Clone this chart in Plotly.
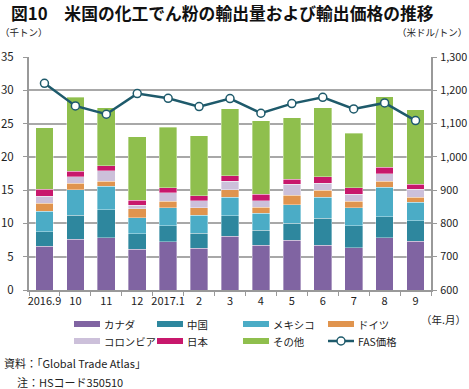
import plotly.graph_objects as go

months = ["2016.9", "10", "11", "12", "2017.1", "2", "3", "4", "5", "6", "7", "8", "9"]
canada  = [6.6, 7.6, 7.85, 6.1, 7.25, 6.25, 8.05, 6.75, 7.5, 6.7, 6.35, 7.85, 7.3]
china   = [2.15, 3.65, 4.2, 2.35, 2.4, 2.25, 3.1, 2.25, 2.55, 4.1, 3.3, 3.15, 3.1]
mexico  = [3.05, 3.8, 3.55, 2.4, 2.7, 2.7, 2.75, 2.5, 2.75, 3.15, 2.7, 4.4, 2.8]
germany = [1.25, 0.95, 0.75, 1.35, 1.0, 1.15, 1.15, 0.95, 1.45, 1.05, 1.0, 0.95, 0.7]
colombia= [1.05, 1.05, 1.55, 0.55, 1.25, 1.05, 1.3, 0.95, 1.6, 1.0, 1.0, 1.15, 1.2]
japan   = [1.05, 0.8, 0.75, 0.75, 0.75, 0.75, 0.85, 1.0, 0.8, 1.0, 1.0, 0.95, 0.75]
other   = [9.2, 11.1, 8.75, 9.5, 9.1, 9.05, 10.05, 11.0, 9.25, 10.4, 8.2, 10.6, 11.25]
fas     = [1221, 1153, 1128, 1190, 1176, 1151, 1175, 1131, 1160, 1179, 1144, 1162, 1109]

names  = ["カナダ", "中国", "メキシコ", "ドイツ", "コロンビア", "日本", "その他"]
series = [canada, china, mexico, germany, colombia, japan, other]
colors = ["#8064A2", "#2E879E", "#4BACC6", "#E0944E", "#CCC0DA", "#C8186C", "#8FBF4D"]
line_name = "FAS価格"
line_color = "#1E5A6B"

FONT = "Noto Sans CJK JP"

fig = go.Figure()
for n, s, c in zip(names, series, colors):
    fig.add_trace(go.Bar(x=months, y=s, name=n, marker=dict(color=c, line=dict(color="rgba(255,255,255,0.6)", width=0.6)),
                         showlegend=False))
fig.add_trace(go.Scatter(x=months, y=fas, name=line_name, yaxis="y2", mode="lines+markers",
                         line=dict(color=line_color, width=2.5),
                         marker=dict(size=8, color="white", line=dict(color=line_color, width=1.5)),
                         showlegend=False))

W, H = 469, 389
L, R, T, B = 29, 38, 57, 99
pw, ph = W - L - R, H - T - B

def px(x):
    return (x - L) / pw

def py(y):
    return (H - B - y) / ph

fig.update_layout(
    width=W, height=H, barmode="stack", bargap=0.43,
    margin=dict(l=L, r=R, t=T, b=B, pad=0, autoexpand=False),
    plot_bgcolor="white", paper_bgcolor="white",
    font=dict(family=FONT, size=11, color="#222"),
    xaxis=dict(type="category", range=[-0.5, len(months) - 0.5], showline=True, linecolor="#999", linewidth=2,
               ticks="outside", ticklen=4, tickcolor="#999", tickson="boundaries",
               tickfont=dict(size=11), tickangle=0, showgrid=False, automargin=False),
    yaxis=dict(range=[0, 35], dtick=5, showline=True, linecolor="#999", linewidth=2,
               ticks="outside", ticklen=4, tickcolor="#999", gridcolor="#a8a8a8", gridwidth=1.5,
               tickfont=dict(size=11.5), ticklabelstandoff=7, zeroline=False, automargin=False),
    yaxis2=dict(range=[600, 1300], dtick=100, overlaying="y", side="right", showline=True,
                linecolor="#999", linewidth=2, ticks="outside", ticklen=4, tickcolor="#999",
                showgrid=False, tickformat=",d", tickfont=dict(size=10.8), ticklabelstandoff=1,
                zeroline=False, automargin=False),
)

ann = []
ann.append(dict(text="<b>図10　米国の化工でん粉の輸出量および輸出価格の推移</b>", x=px(9), y=py(13),
                xanchor="left", yanchor="middle", font=dict(size=16.8, color="#111")))
ann.append(dict(text="（千トン）", x=px(-2), y=py(32), xanchor="left", yanchor="middle", font=dict(size=9.5)))
ann.append(dict(text="（米ドル/トン）", x=px(469), y=py(32), xanchor="right", yanchor="middle", font=dict(size=9.5)))
ann.append(dict(text="（年.月）", x=px(468), y=py(319), xanchor="right", yanchor="middle", font=dict(size=10.5)))
ann.append(dict(text="資料：「Global Trade Atlas」", x=px(2), y=py(363), xanchor="left", yanchor="middle", font=dict(size=11)))
ann.append(dict(text="注：HSコード350510", x=px(15), y=py(382), xanchor="left", yanchor="middle", font=dict(size=11)))

shapes = []
col_x = [74, 157, 243, 328]
row_y = [324, 341]
items = list(zip(names, colors)) + [(line_name, None)]
for i, (n, c) in enumerate(items):
    cx = col_x[i % 4]
    ry = row_y[i // 4]
    if c is not None:
        shapes.append(dict(type="rect", xref="paper", yref="paper", x0=px(cx), x1=px(cx + 26),
                           y0=py(ry + 3), y1=py(ry - 3), fillcolor=c, line=dict(width=0)))
    else:
        shapes.append(dict(type="line", xref="paper", yref="paper", x0=px(cx), x1=px(cx + 26),
                           y0=py(ry), y1=py(ry), line=dict(color=line_color, width=2.5)))
        shapes.append(dict(type="circle", xref="paper", yref="paper", x0=px(cx + 9), x1=px(cx + 17),
                           y0=py(ry + 4), y1=py(ry - 4), fillcolor="white", line=dict(color=line_color, width=1.5)))
    ann.append(dict(text=n, x=px(cx + 27.5), y=py(ry), xanchor="left", yanchor="middle", font=dict(size=10.4)))

for a in ann:
    a.update(xref="paper", yref="paper", showarrow=False)
fig.update_layout(annotations=ann, shapes=shapes)

fig.write_html("out.html", config={"displayModeBar": False},
               post_script="document.body.style.margin='0';document.body.style.padding='0';")
